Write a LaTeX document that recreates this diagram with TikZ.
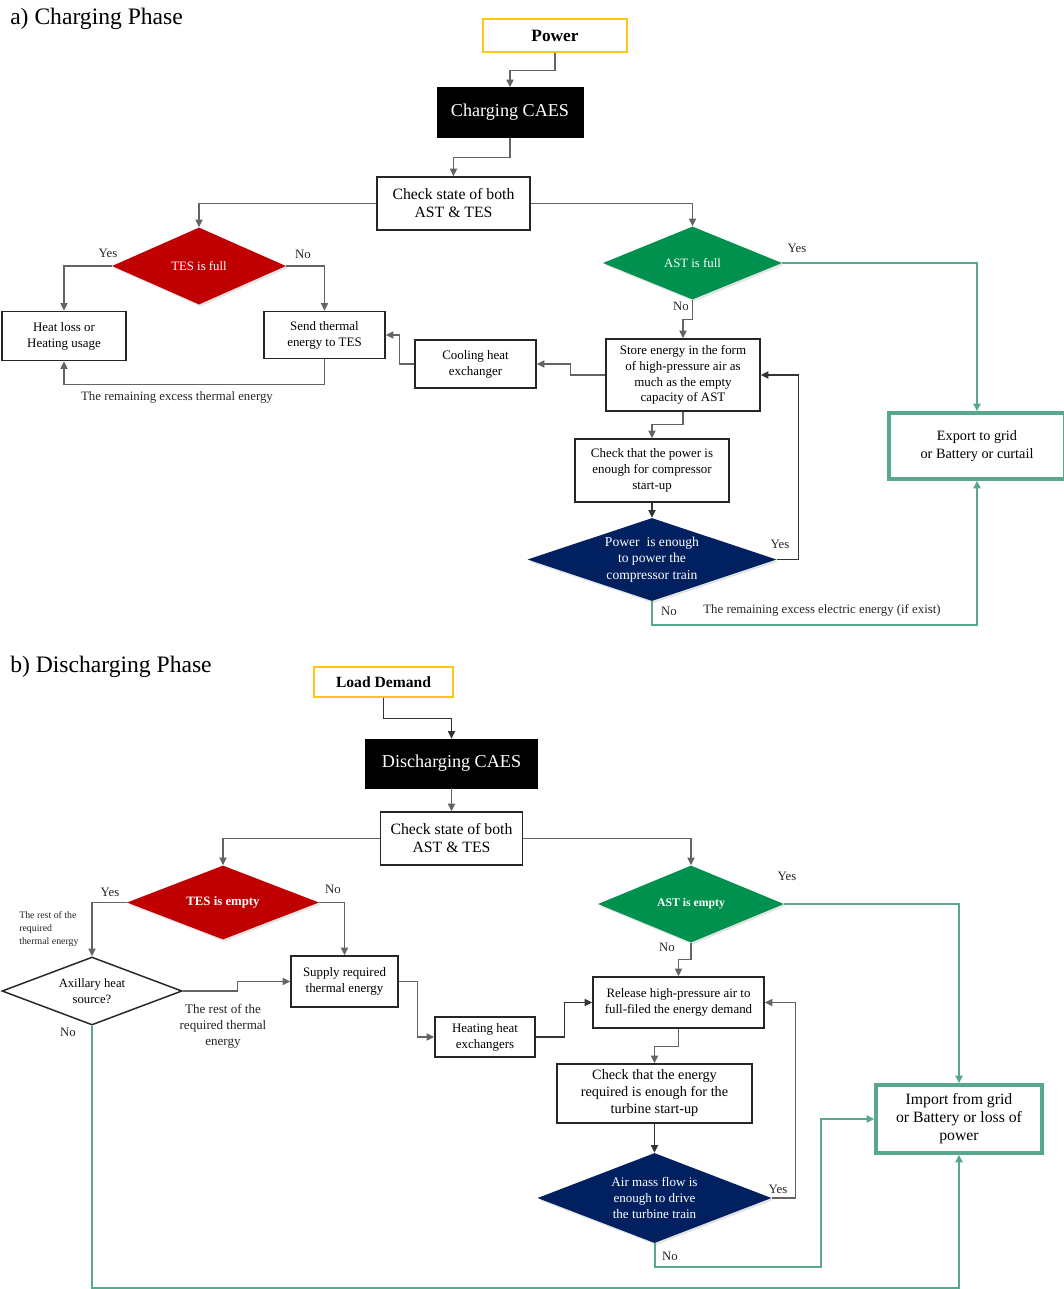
\documentclass[tikz,border=0pt]{standalone}
\usepackage{fontspec}
\setmainfont{Liberation Serif}
\usetikzlibrary{arrows.meta,shapes.geometric,shadows,calc}

\definecolor{tesred}{RGB}{192,0,0}
\definecolor{astgreen}{RGB}{0,145,78}
\definecolor{navyblue}{RGB}{0,32,96}
\definecolor{goldline}{RGB}{255,196,20}
\definecolor{flowteal}{RGB}{88,168,144}
\definecolor{linegray}{RGB}{100,100,100}

\newcommand\fsz[2]{\fontsize{#1}{#2}\selectfont}

\tikzset{
  sz/.style 2 args={minimum width=#1*0.75pt, minimum height=#2*0.75pt},
  box/.style={draw=black!85, line width=1.1pt, fill=white, align=center,
    inner sep=0pt, text=black, font=\fsz{9.7pt}{12pt}},
  startbox/.style={draw=goldline, line width=1.1pt, fill=white, align=center,
    inner sep=0pt, font=\bfseries\fsz{13pt}{15pt}},
  phasebox/.style={draw=black, fill=black, text=white, inner sep=0pt,
    font=\fsz{13.6pt}{16pt}},
  outbox/.style={draw=flowteal, line width=2.6pt, fill=white, align=center,
    inner sep=0pt, text=black},
  decision/.style={shape=diamond, inner sep=0pt, draw=none,
    drop shadow={shadow xshift=1.2pt, shadow yshift=-1.5pt, opacity=0.22}},
  dtxt/.style={text=white, align=center, inner sep=0pt},
  conn/.style={draw=linegray, line width=0.85pt,
    -{Triangle[length=5.8pt,width=5.4pt]}},
  connk/.style={draw=black!80, line width=0.9pt,
    -{Triangle[length=5.8pt,width=5.4pt]}},
  tealconn/.style={draw=flowteal, line width=1.5pt,
    -{Triangle[length=5.8pt,width=5.4pt]}},
  lbl/.style={inner sep=0pt, text=black!85, font=\fsz{9.6pt}{12pt}, align=center},
  phasetitle/.style={anchor=west, inner sep=0pt, font=\fsz{17.7pt}{20pt}},
}

\begin{document}
\begin{tikzpicture}[x=0.75pt, y=-0.75pt]
\path[use as bounding box, fill=white] (0,0) rectangle (1064,1289);

% ---------------- a) Charging phase ----------------
\node[phasetitle] (ta) at (10,19) {a) Charging Phase};

\node[startbox, sz={144}{33}] (power) at (555,35.5) {Power};
\node[phasebox, sz={146}{50}] (chg) at (510,112.5) {Charging CAES};
\node[box, sz={153}{53}, font=\fsz{11.8pt}{13.5pt}] (chkA) at (453.5,203.5)
  {Check state of both\\AST \& TES};

\node[decision, fill=tesred, sz={174}{77},
  label={[dtxt, font=\fsz{9.6pt}{12pt}]center:TES is full}] (tesF) at (199,266) {};
\node[box, sz={124}{49}] (heat) at (64,336) {Heat loss or\\Heating usage};
\node[box, sz={121}{47}] (send) at (324.5,335) {Send thermal\\energy to TES};
\node[box, sz={121}{48}] (cool) at (475.5,364) {Cooling heat\\exchanger};

\node[decision, fill=astgreen, sz={179}{73},
  label={[dtxt, font=\fsz{9.6pt}{12pt}]center:AST is full}] (astF) at (692.5,263) {};
\node[box, sz={154}{72}, font=\fsz{9.7pt}{11.8pt}] (store) at (683,375)
  {Store energy in the form\\of high-pressure air as\\much as the empty\\capacity of AST};
\node[box, sz={154}{63}] (chkP) at (652,470.5)
  {Check that the power is\\enough for compressor\\start-up};
\node[decision, fill=navyblue, sz={249}{83},
  label={[dtxt, font=\fsz{10.2pt}{12.4pt}]center:Power\ \ is enough\\to power the\\compressor train}]
  (powE) at (652,559.5) {};
\node[outbox, sz={176}{66}, font=\fsz{10.7pt}{13.5pt}] (export) at (977,446)
  {Export to grid\\or Battery or curtail};

\draw[conn] (power.south) -- ++(0,18) -| (chg.north);
\draw[conn] (chg.south) -- ++(0,20) -| (chkA.north);
\draw[conn] (chkA.west) -| (tesF.north);
\draw[conn] (chkA.east) -| (astF.north);
\draw[conn] (tesF.west) -| (heat.north);
\draw[conn] (tesF.east) -| (send.north);
\draw[conn] (send.south) -- ++(0,25) -| (heat.south);
\draw[conn] (store.west) -- ++(-35,0) |- (cool.east);
\draw[conn] (cool.west) -- ++(-15,0) |- (send.east);
\draw[tealconn] (astF.east) -| (export.north);
\draw[conn] (astF.south) -- ++(0,20) -| (store.north);
\draw[conn] (store.south) -- ++(0,13) -| (chkP.north);
\draw[connk] (chkP.south) -- (powE.north);
\draw[connk] (powE.east) -- ++(22,0) |- (store.east);
\draw[tealconn] (powE.south) -- ++(0,24) -| (export.south);

\node[lbl] (yA1) at (108,253) {Yes};
\node[lbl] (nA1) at (303,254) {No};
\node[lbl] (yA2) at (797,248) {Yes};
\node[lbl] (nA2) at (681,306) {No};
\node[lbl] (yA3) at (780,544) {Yes};
\node[lbl] (nA3) at (669,611) {No};
\node[lbl] (remT) at (177,397) {The remaining excess thermal energy};
\node[lbl] (remE) at (822,610) {The remaining excess electric energy (if exist)};

% ---------------- b) Discharging phase ----------------
\node[phasetitle] (tb) at (10,667) {b) Discharging Phase};

\node[startbox, sz={139}{30}, font=\bfseries\fsz{11.7pt}{14pt}] (load) at (383.5,682) {Load Demand};
\node[phasebox, sz={172}{49}] (dchg) at (451.5,763.5) {Discharging CAES};
\node[box, sz={142}{53}, font=\fsz{11.8pt}{13.5pt}] (chkB) at (451.5,838.5)
  {Check state of both\\AST \& TES};

\node[decision, fill=tesred, sz={192}{74},
  label={[dtxt, font=\bfseries\fsz{9.6pt}{12pt}]center:TES is empty}] (tesE) at (223,902.5) {};
\node[shape=diamond, draw=black!85, line width=1.1pt, fill=white, inner sep=0pt,
  sz={180}{68}, label={[inner sep=0pt, align=center, font=\fsz{9.5pt}{12pt}]center:Axillary heat\\source?}]
  (aux) at (92,991) {};
\node[box, sz={107}{51}] (supply) at (344.5,981.5) {Supply required\\thermal energy};
\node[box, sz={100}{40}] (heatx) at (485,1037) {Heating heat\\exchangers};

\node[decision, fill=astgreen, sz={186}{77},
  label={[dtxt, font=\bfseries\fsz{8.8pt}{12pt}]center:AST is empty}] (astE) at (691,904) {};
\node[box, sz={171}{51}] (release) at (678.5,1002.5)
  {Release high-pressure air to\\full-filed the energy demand};
\node[box, sz={195}{59}, font=\fsz{10.7pt}{12.75pt}] (chkE) at (654.5,1093.5)
  {Check that the energy\\required is enough for the\\turbine start-up};
\node[decision, fill=navyblue, sz={234}{90},
  label={[dtxt, font=\fsz{9.8pt}{12pt}]center:Air mass flow is\\enough to drive\\the turbine train}]
  (airM) at (654.5,1198) {};
\node[outbox, sz={166}{68}, font=\fsz{11.8pt}{13.5pt}] (import) at (959,1119)
  {Import from grid\\or Battery or loss of\\power};

\draw[connk] (load.south) -- ++(0,21) -| (dchg.north);
\draw[conn] (dchg.south) -- (chkB.north);
\draw[conn] (chkB.west) -| (tesE.north);
\draw[conn] (chkB.east) -| (astE.north);
\draw[conn] (tesE.west) -| (aux.north);
\draw[conn] (tesE.east) -| (supply.north);
\draw[conn] (aux.east) -- ++(55,0) |- (supply.west);
\draw[conn] (supply.east) -- ++(19,0) |- (heatx.west);
\draw[connk] (heatx.east) -- ++(29,0) |- (release.west);
\draw[tealconn] (astE.east) -| (import.north);
\draw[conn] (astE.south) -- ++(0,17) -| (release.north);
\draw[conn] (release.south) -- ++(0,18) -| (chkE.north);
\draw[connk] (chkE.south) -- (airM.north);
\draw[conn] (airM.east) -- ++(24,0) |- (release.east);
\draw[tealconn] (airM.south) -- ++(0,24) -| ($(import.west)+(-53,0)$) -- (import.west);
\draw[tealconn] (aux.south) -- ++(0,262) -| (import.south);

\node[lbl] (yB1) at (110,892) {Yes};
\node[lbl] (nB1) at (333,889) {No};
\node[lbl, anchor=west, align=left, font=\fsz{7.4pt}{9.75pt}] (restS) at (19,929)
  {The rest of the\\required\\thermal energy};
\node[lbl, font=\fsz{9.8pt}{12pt}] (restL) at (223,1026) {The rest of the\\required thermal\\energy};
\node[lbl] (nB2) at (68,1032) {No};
\node[lbl] (yB2) at (787,876) {Yes};
\node[lbl] (nB3) at (667,947) {No};
\node[lbl] (yB3) at (778,1189) {Yes};
\node[lbl] (nB4) at (670,1256) {No};
\end{tikzpicture}
\end{document}
